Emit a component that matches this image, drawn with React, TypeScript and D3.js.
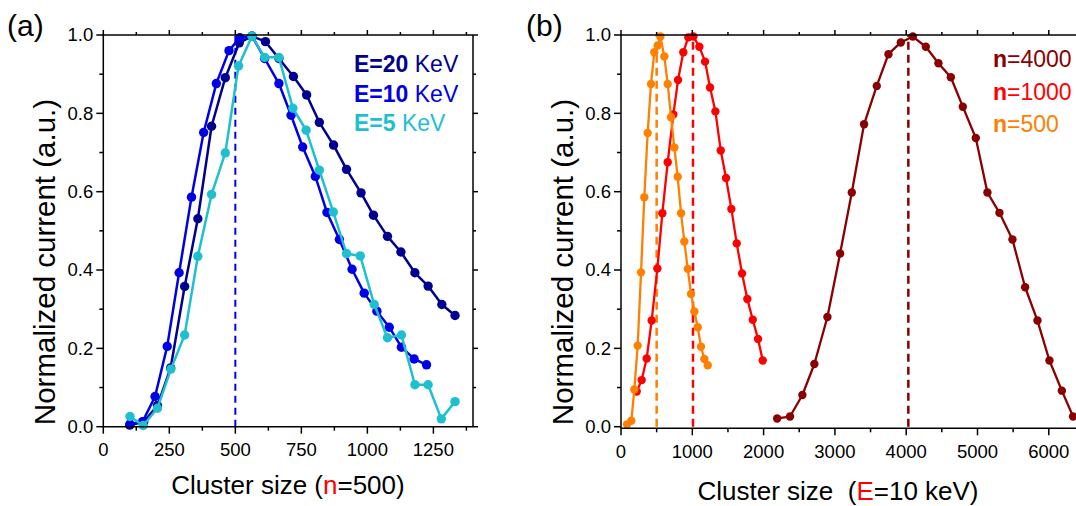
import React from "react";
import * as d3 from "d3";

// ---------- Panel (a) data: n=500, varying E ----------
const aX20 = [100, 153, 205, 255, 308, 358, 410, 462, 515, 563, 614, 665, 720, 770, 818, 872, 921, 976, 1023, 1076, 1127, 1180, 1230, 1282, 1332];
const aY20 = [0.004, 0.012, 0.054, 0.15, 0.358, 0.531, 0.767, 0.891, 0.98, 0.997, 0.983, 0.94, 0.894, 0.847, 0.777, 0.719, 0.657, 0.597, 0.54, 0.486, 0.446, 0.393, 0.359, 0.312, 0.284];
const aX10 = [101, 149, 196, 242, 287, 334, 380, 428, 476, 517, 563, 611, 665, 711, 755, 803, 847, 894, 942, 988, 1036, 1083, 1129, 1177, 1224];
const aY10 = [0.007, 0.013, 0.077, 0.205, 0.393, 0.586, 0.751, 0.876, 0.96, 0.993, 0.997, 0.94, 0.876, 0.795, 0.714, 0.639, 0.547, 0.478, 0.402, 0.341, 0.295, 0.254, 0.203, 0.173, 0.158];
const aX5 = [101, 151, 205, 256, 308, 358, 410, 462, 512, 563, 611, 665, 718, 768, 818, 871, 921, 973, 1026, 1076, 1129, 1180, 1230, 1280, 1332];
const aY5 = [0.026, 0.003, 0.047, 0.147, 0.234, 0.435, 0.593, 0.699, 0.921, 0.997, 0.943, 0.943, 0.813, 0.757, 0.655, 0.548, 0.442, 0.436, 0.312, 0.227, 0.234, 0.107, 0.107, 0.02, 0.064];
const aPeak = 500;
const aXTicks = [0, 250, 500, 750, 1000, 1250];

// ---------- Panel (b) data: E=10 keV, varying n ----------
const bX500 = [85, 145, 187, 234, 281, 327, 374, 421, 467, 514, 552, 608, 655, 702, 748, 795, 842, 888, 936, 982, 1029, 1076, 1122, 1169, 1216];
const bY500 = [0.006, 0.015, 0.095, 0.207, 0.394, 0.586, 0.75, 0.875, 0.956, 0.973, 0.996, 0.945, 0.875, 0.79, 0.713, 0.638, 0.545, 0.473, 0.403, 0.339, 0.294, 0.254, 0.204, 0.173, 0.157];
const bX1000 = [220, 290, 360, 430, 510, 580, 655, 734, 800, 874, 944, 1015, 1099, 1179, 1249, 1324, 1399, 1473, 1548, 1623, 1698, 1772, 1848, 1922, 1988];
const bY1000 = [0.09, 0.119, 0.174, 0.271, 0.404, 0.545, 0.675, 0.797, 0.885, 0.956, 0.994, 0.996, 0.97, 0.932, 0.866, 0.805, 0.705, 0.635, 0.556, 0.468, 0.391, 0.326, 0.273, 0.224, 0.169];
const bX4000 = [2190, 2371, 2544, 2712, 2895, 3073, 3237, 3409, 3587, 3751, 3924, 4093, 4275, 4452, 4626, 4794, 4976, 5139, 5308, 5490, 5668, 5841, 6009, 6183, 6340];
const bY4000 = [0.021, 0.026, 0.081, 0.16, 0.28, 0.442, 0.598, 0.772, 0.87, 0.951, 0.981, 0.996, 0.97, 0.928, 0.892, 0.817, 0.737, 0.598, 0.546, 0.478, 0.356, 0.271, 0.169, 0.092, 0.026];
const bPeaks = [500, 1010, 4030];
const bXTicks = [0, 1000, 2000, 3000, 4000, 5000, 6000];

const yTicks = [0, 0.2, 0.4, 0.6, 0.8, 1.0];

const C20 = "#000090";
const C10 = "#0000e6";
const C5 = "#1ec0cf";
const CN4000 = "#8b0000";
const CN1000 = "#ff0000";
const CN500 = "#ff8000";

const FONT = "'Liberation Sans', Arial, Helvetica, sans-serif";

type Scale = d3.ScaleLinear<number, number>;

function Series({ xs, ys, x, y, color, r, w }: { xs: number[]; ys: number[]; x: Scale; y: Scale; color: string; r: number; w: number }) {
  const pts = xs.map((v, i) => [v, ys[i]] as [number, number]);
  const line = d3.line<[number, number]>().x((d) => x(d[0])).y((d) => y(d[1]));
  return (
    <g>
      <path d={line(pts) || ""} fill="none" stroke={color} strokeWidth={w} strokeLinejoin="round" />
      {pts.map((d, i) => (
        <circle key={i} cx={x(d[0])} cy={y(d[1])} r={r} fill={color} />
      ))}
    </g>
  );
}

function Frame({ x, y, xTicks, xMinor, bottomY, rightX, labelBaseline }: { x: Scale; y: Scale; xTicks: number[]; xMinor: number; bottomY: number; rightX: number; labelBaseline: number }) {
  const [x0] = x.range();
  const top = y(1);
  const xEnd = x.domain()[1];
  const minorX = d3.range(0, xEnd + 1e-6, xMinor);
  const minorY = d3.range(0, 1.0001, 0.1);
  const sw = 1.5;
  return (
    <g stroke="#000" strokeWidth={sw} fill="none">
      <line x1={x0} y1={top} x2={x0} y2={bottomY} />
      <line x1={x0 - 0.75} y1={bottomY} x2={rightX} y2={bottomY} />
      <line x1={x0 - 0.75} y1={top} x2={rightX} y2={top} />
      <line x1={rightX} y1={top} x2={rightX} y2={bottomY} />
      {minorX.map((v, i) => {
        const major = xTicks.some((t) => Math.abs(t - v) < 1e-6);
        const px = x(v);
        if (px > rightX + 1) return null;
        return (
          <g key={"x" + i}>
            <line x1={px} y1={bottomY} x2={px} y2={bottomY + (major ? 7 : 4)} />
            <line x1={px} y1={top} x2={px} y2={top - (major ? 5 : 3)} />
          </g>
        );
      })}
      {minorY.map((v, i) => {
        const major = i % 2 === 0;
        const py = y(v);
        return (
          <g key={"y" + i}>
            <line x1={x0} y1={py} x2={x0 - (major ? 7 : 4)} y2={py} />
            <line x1={rightX} y1={py} x2={rightX + (major ? 5 : 3)} y2={py} />
          </g>
        );
      })}
      <g stroke="none" fill="#000" fontFamily={FONT} fontSize={18.5}>
        {xTicks.map((t) => (
          <text key={"xl" + t} x={x(t)} y={labelBaseline} textAnchor="middle">
            {t}
          </text>
        ))}
        {yTicks.map((t) => (
          <text key={"yl" + t} x={x0 - 10} y={y(t)} dy="0.35em" textAnchor="end">
            {t.toFixed(1)}
          </text>
        ))}
      </g>
    </g>
  );
}

export default function App() {
  const W = 1076;
  const H = 506;

  const xA = d3.scaleLinear().domain([0, 1400]).range([103.3, 473]);
  const yA = d3.scaleLinear().domain([0, 1]).range([426.7, 35]);

  const xB = d3.scaleLinear().domain([0, 7000]).range([621, 621 + 7000 * 0.0713]);
  const yB = d3.scaleLinear().domain([0, 1]).range([426.7, 35]);

  return (
    <svg width={W} height={H} viewBox={`0 0 ${W} ${H}`} style={{ position: "absolute", left: 0, top: 0, background: "#fff" }}>
      <rect width={W} height={H} fill="#fff" />
      {/* ---------- panel (a) ---------- */}
      <line x1={xA(aPeak)} x2={xA(aPeak)} y1={yA(0)} y2={yA(1)} stroke={C10} strokeWidth={2} strokeDasharray="7,5" />
      <Series xs={aX20} ys={aY20} x={xA} y={yA} color={C20} r={4.7} w={2.5} />
      <Series xs={aX10} ys={aY10} x={xA} y={yA} color={C10} r={4.7} w={2.5} />
      <Series xs={aX5} ys={aY5} x={xA} y={yA} color={C5} r={4.7} w={2.5} />
      <Frame x={xA} y={yA} xTicks={aXTicks} xMinor={125} bottomY={426.7} rightX={473} labelBaseline={456} />
      <g fontFamily={FONT} fontSize={23}>
        <text x={354} y={71.5} fill={C20}>
          <tspan fontWeight="bold">E=20</tspan> KeV
        </text>
        <text x={354} y={101.5} fill={C10}>
          <tspan fontWeight="bold">E=10</tspan> KeV
        </text>
        <text x={354} y={130.5} fill={C5}>
          <tspan fontWeight="bold">E=5</tspan> KeV
        </text>
      </g>
      <text x={288} y={494} textAnchor="middle" fontFamily={FONT} fontSize={26} fill="#000">
        Cluster size (<tspan fill="#ff0000">n</tspan>=500)
      </text>
      <text transform="translate(45,262) rotate(-90)" textAnchor="middle" dy="0.35em" fontFamily={FONT} fontSize={29.5} fill="#000">
        Normalized current (a.u.)
      </text>
      <text x={7} y={36} fontFamily={FONT} fontSize={30} fill="#000">(a)</text>

      {/* ---------- panel (b) ---------- */}
      <line x1={xB(bPeaks[0])} x2={xB(bPeaks[0])} y1={yB(0)} y2={yB(1)} stroke={CN500} strokeWidth={2.5} strokeDasharray="8,5" />
      <line x1={xB(bPeaks[1])} x2={xB(bPeaks[1])} y1={yB(0)} y2={yB(1)} stroke={CN1000} strokeWidth={2.5} strokeDasharray="8,5" />
      <line x1={xB(bPeaks[2])} x2={xB(bPeaks[2])} y1={yB(0)} y2={yB(1)} stroke={CN4000} strokeWidth={2.5} strokeDasharray="8,5" />
      <Series xs={bX4000} ys={bY4000} x={xB} y={yB} color={CN4000} r={4.2} w={2.3} />
      <Series xs={bX1000} ys={bY1000} x={xB} y={yB} color={CN1000} r={4.2} w={2.3} />
      <Series xs={bX500} ys={bY500} x={xB} y={yB} color={CN500} r={4.2} w={2.3} />
      <Frame x={xB} y={yB} xTicks={bXTicks} xMinor={500} bottomY={428.3} rightX={1120} labelBaseline={458} />
      <g fontFamily={FONT} fontSize={23}>
        <text x={993} y={67} fill={CN4000}>
          <tspan fontWeight="bold">n</tspan>=4000
        </text>
        <text x={993} y={99.5} fill={CN1000}>
          <tspan fontWeight="bold">n</tspan>=1000
        </text>
        <text x={993} y={131.5} fill={CN500}>
          <tspan fontWeight="bold">n</tspan>=500
        </text>
      </g>
      <text x={838} y={500} textAnchor="middle" fontFamily={FONT} fontSize={26} fill="#000" style={{ whiteSpace: "pre" }}>
        {"Cluster size  ("}<tspan fill="#ff0000">E</tspan>{"=10 keV)"}
      </text>
      <text transform="translate(563,262) rotate(-90)" textAnchor="middle" dy="0.35em" fontFamily={FONT} fontSize={29.5} fill="#000">
        Normalized current (a.u.)
      </text>
      <text x={526} y={36} fontFamily={FONT} fontSize={30} fill="#000">(b)</text>
    </svg>
  );
}
